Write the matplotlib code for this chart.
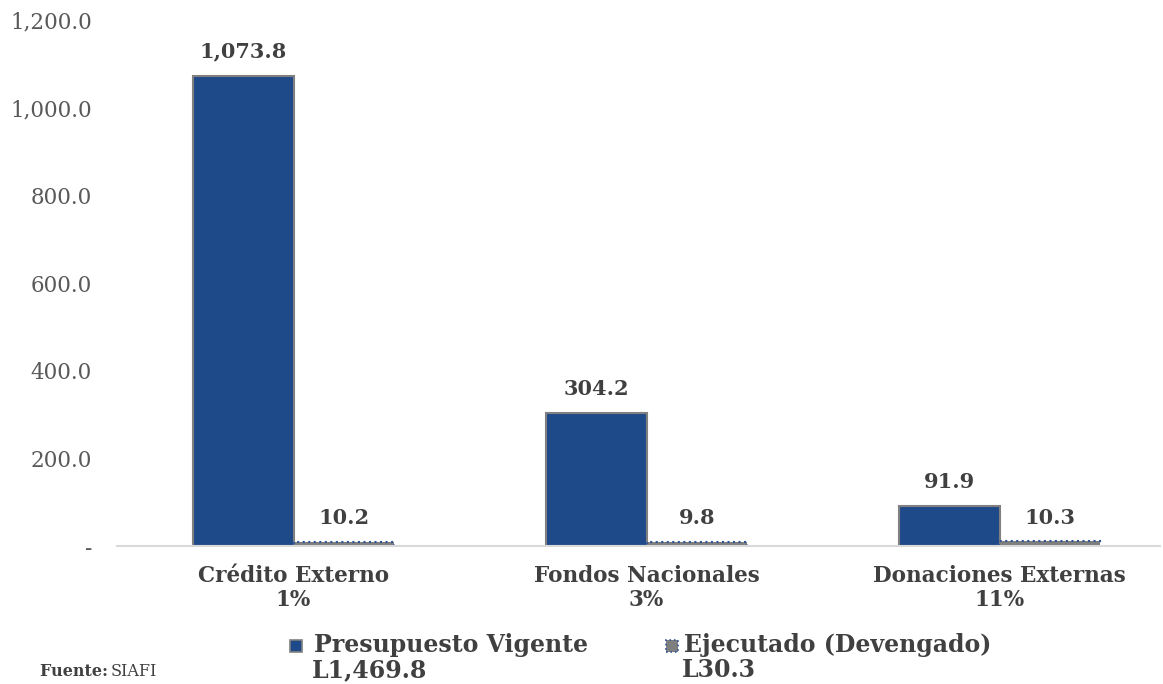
import matplotlib.pyplot as plt
from matplotlib.patches import Rectangle
import numpy as np

# data
categories = ['Crédito Externo', 'Fondos Nacionales', 'Donaciones Externas']
percent_exec = ['1%', '3%', '11%']
presupuesto = [1073.8, 304.2, 91.9]
ejecutado = [10.2, 9.8, 10.3]
legend_names = ['Presupuesto Vigente', 'Ejecutado (Devengado)']
legend_totals = ['L1,469.8', 'L30.3']
y_ticks = [0, 200, 400, 600, 800, 1000, 1200]

FONT = 'DejaVu Serif'
BLUE = '#1F4A89'
TXT = '#404040'


def fmt(v):
    return '-' if v == 0 else f'{v:,.1f}'


def main():
    plt.rcParams['font.family'] = FONT
    fig = plt.figure(figsize=(11.63, 6.84), dpi=100)
    W, H = 1163, 684
    ax = fig.add_axes([117 / W, 1 - 546 / H, (1160 - 117) / W, (546 - 20.4) / H])

    x = np.arange(len(categories))
    w = 0.286
    b1 = ax.bar(x - w / 2, presupuesto, w, color=BLUE, edgecolor='#808080', linewidth=1.5)
    b2 = ax.bar(x + w / 2, ejecutado, w, color='#7f7f7f', edgecolor='#2F5597',
                linewidth=1.5, linestyle=':')

    for bars, vals in [(b1, presupuesto), (b2, ejecutado)]:
        ax.bar_label(bars, labels=[fmt(v) for v in vals], padding=10,
                     fontsize=15, fontweight='bold', color=TXT)

    ax.set_xlim(-0.5, -0.5 + (1160 - 117) / 353)
    ax.set_ylim(0, 1200)
    ax.set_yticks(y_ticks)
    ax.set_yticklabels([fmt(v) for v in y_ticks], fontsize=15.5, color='#595959')
    ax.tick_params(axis='y', length=0, pad=18)
    ax.set_xticks(x)
    ax.set_xticklabels([f'{c}\n{p}' for c, p in zip(categories, percent_exec)],
                       fontsize=15.5, fontweight='bold', color=TXT, linespacing=1.1)
    ax.tick_params(axis='x', length=0, pad=14)
    for s in ['top', 'right', 'left']:
        ax.spines[s].set_visible(False)
    ax.spines['bottom'].set_color('#d9d9d9')
    ax.spines['bottom'].set_linewidth(1.5)

    # legend drawn by hand so the marker sits on the first line
    handles = [dict(fc=BLUE, ec='#808080', ls='-'), dict(fc='#7f7f7f', ec='#2F5597', ls=':')]
    sq_x = [290, 666]
    txt_x = [314, 684]
    for i in range(2):
        fig.patches.append(Rectangle((sq_x[i] / W, 1 - 652 / H), 12 / W, 12 / H,
                                     transform=fig.transFigure, facecolor=handles[i]['fc'],
                                     edgecolor=handles[i]['ec'], linestyle=handles[i]['ls'],
                                     linewidth=1.2))
        fig.text(txt_x[i] / W, 1 - 645 / H, legend_names[i], fontsize=17, fontweight='bold',
                 color=TXT, va='center', ha='left')
        fig.text((txt_x[i] - 2) / W, 1 - 670 / H, legend_totals[i], fontsize=17,
                 fontweight='bold', color=TXT, va='center', ha='left')

    fig.text(40 / W, 1 - 672 / H, 'Fuente: ', fontsize=11.5, fontweight='bold', color=TXT,
             va='center')
    fig.text(111 / W, 1 - 672 / H, 'SIAFI', fontsize=11.5, color=TXT, va='center')

    fig.savefig('out.png', dpi=100)


if __name__ == '__main__':
    main()
